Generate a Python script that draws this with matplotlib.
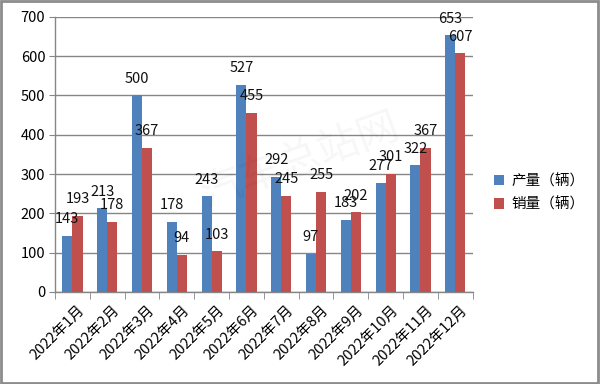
import matplotlib
matplotlib.use("Agg")
import matplotlib.pyplot as plt
import numpy as np
from matplotlib.patches import Rectangle

plt.rcParams['font.family'] = ['Noto Sans CJK SC', 'DejaVu Sans']

months = ["2022年1月", "2022年2月", "2022年3月", "2022年4月", "2022年5月", "2022年6月",
          "2022年7月", "2022年8月", "2022年9月", "2022年10月", "2022年11月", "2022年12月"]
production = [143, 213, 500, 178, 243, 527, 292, 97, 183, 277, 322, 653]
sales = [193, 178, 367, 94, 103, 455, 245, 255, 202, 301, 367, 607]
series_names = ["产量（辆）", "销量（辆）"]
yticks = [0, 100, 200, 300, 400, 500, 600, 700]

blue = "#4F81BD"
red = "#C0504D"

fig = plt.figure(figsize=(6, 3.84), dpi=100)
ax = fig.add_axes([0.0917, 0.240, 0.696, 0.716])

x = np.arange(len(months))
w = 0.29
ax.bar(x - w/2, production, w, color=blue, label=series_names[0], zorder=3)
ax.bar(x + w/2, sales, w, color=red, label=series_names[1], zorder=3)

for xi, v in zip(x - w/2, production):
    ax.annotate(str(v), (xi, v), xytext=(0, 12), textcoords="offset points",
                ha="center", va="center", fontsize=10.5, color="#111111", zorder=5)
for xi, v in zip(x + w/2, sales):
    ax.annotate(str(v), (xi, v), xytext=(0, 12), textcoords="offset points",
                ha="center", va="center", fontsize=10.5, color="#111111", zorder=5)

ax.set_ylim(0, 700)
ax.set_xlim(-0.5, len(months) - 0.5)
ax.set_yticks(yticks)
ax.tick_params(axis='y', labelsize=10.5, length=4, color="#868686", pad=3)
ax.yaxis.grid(True, color="#868686", linewidth=1, zorder=0)
ax.set_axisbelow(True)

ax.set_xticks(x + 0.15)
ax.set_xticklabels(months, rotation=45, ha="right", rotation_mode="anchor", fontsize=10.5)
ax.tick_params(axis='x', length=0, pad=8)
ax.set_xticks(np.arange(-0.5, len(months)), minor=True)
ax.tick_params(axis='x', which='minor', length=5, color="#868686")

for s in ["top", "right"]:
    ax.spines[s].set_visible(False)
for s in ["left", "bottom"]:
    ax.spines[s].set_color("#868686")
    ax.spines[s].set_linewidth(1)

ax.legend(loc="center left", bbox_to_anchor=(1.02, 0.36), frameon=False,
          fontsize=10.5, handlelength=0.7, handleheight=0.7, handletextpad=0.5,
          labelspacing=0.6)

fig.text(0.50, 0.58, "汽车总站网", fontsize=30, color="#000000", alpha=0.035,
         rotation=20, ha="center", va="center")

fig.patches.append(Rectangle((0.002, 0.003), 0.995, 0.994, transform=fig.transFigure,
                             fill=False, edgecolor="#8c8c8c", linewidth=2))

fig.savefig("out.png", dpi=100)
